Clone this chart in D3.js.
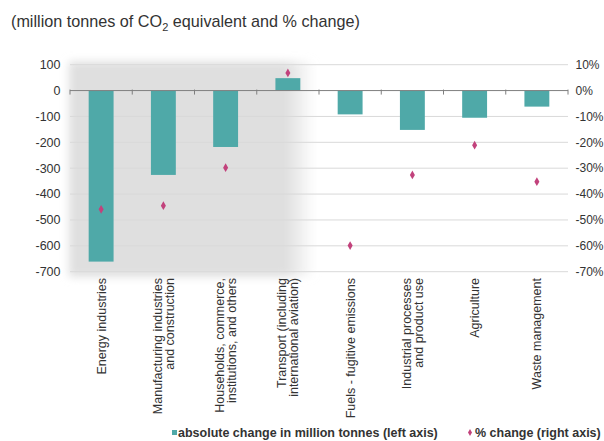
<!DOCTYPE html>
<html>
<head>
<meta charset="utf-8">
<script src="https://cdn.jsdelivr.net/npm/d3@7/dist/d3.min.js"></script>
<style>
  html, body { margin: 0; padding: 0; background: #fff; }
  svg { display: block; font-family: Arial, "Liberation Sans", sans-serif; }
</style>
</head>
<body>
<svg id="chart" width="604" height="441"></svg>
<script>
// Sector labels (each entry is the list of lines drawn for that sector)
const categories = [
  ["Energy industries"],
  ["Manufacturing industries", "and construction"],
  ["Households, commerce,", "institutions, and others"],
  ["Transport (including", "international aviation)"],
  ["Fuels - fugitive emissions"],
  ["Industrial processes", "and product use"],
  ["Agriculture"],
  ["Waste management"]
];
// Absolute change, million tonnes CO2 equivalent (left axis)
const absoluteChange = [-661, -326, -218, 48, -92, -152, -105, -62];
// Percentage change (right axis)
const percentChange = [-45.9, -44.5, -29.8, 6.8, -59.9, -32.6, -21.1, -35.2];
// Axis ticks
const leftTicks = [100, 0, -100, -200, -300, -400, -500, -600, -700];
const rightTicks = [10, 0, -10, -20, -30, -40, -50, -60, -70];
// Number of leading sectors covered by the shaded band
const shadedCount = 4;

const svg = d3.select("#chart");
const plot = { left: 70, right: 568, top: 64.7, bottom: 271.7 };

const x = d3.scaleBand()
  .domain(d3.range(categories.length))
  .range([plot.left, plot.right])
  .paddingInner(0.6)
  .paddingOuter(0.3);
const xOuter = d3.scaleBand()
  .domain(d3.range(categories.length))
  .range([plot.left, plot.right]);
const yLeft = d3.scaleLinear().domain([-700, 100]).range([plot.bottom, plot.top]);
const yRight = d3.scaleLinear().domain([-70, 10]).range([plot.bottom, plot.top]);

const teal = "#4fa9a8";
const pink = "#c2427c";
const textColor = "#333";

// Soft grey band behind the first sectors
const defs = svg.append("defs");
const blur = defs.append("filter").attr("id", "soft")
  .attr("x", "-20%").attr("y", "-20%").attr("width", "140%").attr("height", "140%");
blur.append("feGaussianBlur").attr("stdDeviation", 4);
const grad = defs.append("linearGradient").attr("id", "fadeRight")
  .attr("x1", "0").attr("x2", "1").attr("y1", "0").attr("y2", "0");
grad.append("stop").attr("offset", "0.88").attr("stop-color", "#dfdfdf");
grad.append("stop").attr("offset", "1").attr("stop-color", "#dfdfdf").attr("stop-opacity", 0);
const bandEnd = xOuter(shadedCount - 1) + xOuter.bandwidth();
svg.append("rect")
  .attr("x", plot.left - 1)
  .attr("y", yLeft(100) - 3)
  .attr("width", bandEnd - plot.left - 3)
  .attr("height", yLeft(-700) - yLeft(100) + 8)
  .attr("fill", "url(#fadeRight)")
  .attr("filter", "url(#soft)");

// Horizontal gridlines
svg.append("g").selectAll("line")
  .data(leftTicks.filter(d => d !== 0))
  .join("line")
  .attr("x1", plot.left).attr("x2", plot.right)
  .attr("y1", d => yLeft(d)).attr("y2", d => yLeft(d))
  .attr("stroke", "#d9d9d9").attr("stroke-width", 1);

// Bars
svg.append("g").selectAll("rect")
  .data(absoluteChange)
  .join("rect")
  .attr("x", (d, i) => x(i))
  .attr("width", x.bandwidth())
  .attr("y", d => yLeft(Math.max(0, d)))
  .attr("height", d => Math.abs(yLeft(d) - yLeft(0)))
  .attr("fill", teal);

// Zero line with category separator ticks
const zeroY = yLeft(0);
svg.append("line")
  .attr("x1", plot.left).attr("x2", plot.right)
  .attr("y1", zeroY).attr("y2", zeroY)
  .attr("stroke", "#7f7f7f").attr("stroke-width", 1);
svg.append("g").selectAll("line")
  .data(d3.range(categories.length + 1))
  .join("line")
  .attr("x1", i => i < categories.length ? xOuter(i) : plot.right)
  .attr("x2", i => i < categories.length ? xOuter(i) : plot.right)
  .attr("y1", zeroY - 1).attr("y2", zeroY + 4)
  .attr("stroke", "#7f7f7f").attr("stroke-width", 1);

// Percentage markers
svg.append("g").selectAll("path")
  .data(percentChange)
  .join("path")
  .attr("transform", (d, i) => `translate(${xOuter(i) + xOuter.bandwidth() / 2},${yRight(d)})`)
  .attr("d", d3.symbol(d3.symbolDiamond, 22))
  .attr("fill", pink);

// Left axis labels
svg.append("g").selectAll("text")
  .data(leftTicks)
  .join("text")
  .attr("x", 60.5)
  .attr("y", d => yLeft(d))
  .attr("dy", "0.35em")
  .attr("text-anchor", "end")
  .attr("font-size", 12.5)
  .attr("fill", textColor)
  .text(d => d);

// Right axis labels
svg.append("g").selectAll("text")
  .data(rightTicks)
  .join("text")
  .attr("x", 575.5)
  .attr("y", d => yRight(d))
  .attr("dy", "0.35em")
  .attr("text-anchor", "start")
  .attr("font-size", 12)
  .attr("fill", textColor)
  .text(d => d + "%");

// Rotated category labels
const lineGap = 12;
const catG = svg.append("g").selectAll("g")
  .data(categories)
  .join("g")
  .attr("transform", (d, i) => `translate(${xOuter(i) + xOuter.bandwidth() / 2},278) rotate(-90)`);
catG.selectAll("text")
  .data(d => d.map((t, k) => ({ t, k, n: d.length })))
  .join("text")
  .attr("x", 0)
  .attr("y", d => (d.k - (d.n - 1) / 2) * lineGap)
  .attr("dy", "0.35em")
  .attr("text-anchor", "end")
  .attr("font-size", 12.5)
  .attr("fill", textColor)
  .text(d => d.t);

// Title
const title = svg.append("text")
  .attr("x", 11).attr("y", 27)
  .attr("font-size", 16.2)
  .attr("fill", textColor);
title.append("tspan").text("(million tonnes of CO");
title.append("tspan").attr("font-size", 11).attr("dy", 4).text("2");
title.append("tspan").attr("dy", -4).text(" equivalent and % change)");

// Legend
const legend = svg.append("g").attr("font-size", 12.5).attr("font-weight", "bold").attr("fill", textColor);
legend.append("rect").attr("x", 172).attr("y", 430).attr("width", 5).attr("height", 5).attr("fill", teal);
legend.append("text").attr("x", 178).attr("y", 437).text("absolute change in million tonnes (left axis)");
legend.append("path")
  .attr("transform", "translate(470,432.5)")
  .attr("d", d3.symbol(d3.symbolDiamond, 14))
  .attr("fill", pink);
legend.append("text").attr("x", 475).attr("y", 437).text("% change (right axis)");
</script>
</body>
</html>
